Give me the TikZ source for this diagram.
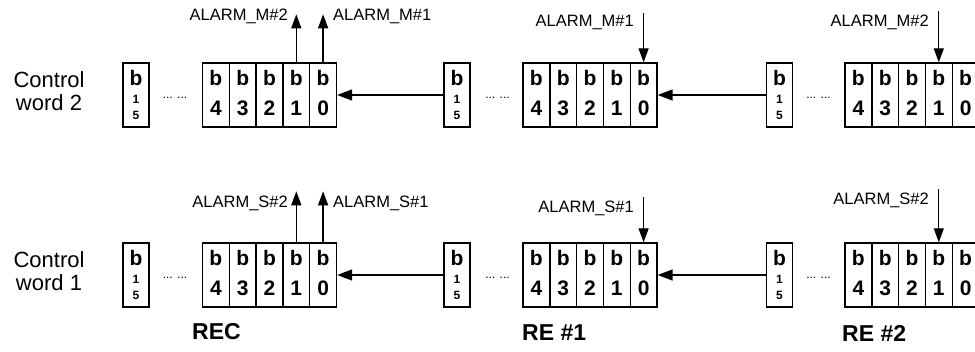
\documentclass[tikz,border=0pt]{standalone}
\usepackage{fontspec}
\setmainfont{Liberation Sans}
\usetikzlibrary{arrows.meta}
\newcommand{\regcell}[1]{\vbox{\baselineskip=30pt\lineskiplimit=-100pt\hbox to 24pt{\hss\bfseries b\hss}\hbox to 24pt{\hss #1\hss}\kern4pt}}
\newcommand{\hibits}{\vbox{\offinterlineskip\hbox to 24pt{\hss\fontsize{21}{21}\selectfont\bfseries b\hss}\kern9.5pt\hbox to 24pt{\hss\fontsize{12}{12}\selectfont\bfseries 1\hss}\kern8.4pt\hbox to 24pt{\hss\fontsize{12}{12}\selectfont\bfseries 5\hss}}}
\begin{document}
\begin{tikzpicture}[x=1pt,y=-1pt,
  cellbox/.style={draw, line width=1.4pt, minimum width=26.8pt, minimum height=64pt, inner sep=0pt, font=\fontsize{21}{30}\selectfont},
  hibox/.style={draw, line width=1.4pt, minimum width=26pt, minimum height=64pt, inner sep=0pt},
  dotsn/.style={inner sep=0pt, font=\fontsize{12}{12}\selectfont},
  alarm/.style={inner sep=0pt, font=\fontsize{16.5}{16.5}\selectfont},
  cw/.style={align=center, inner sep=0pt, font=\fontsize{22}{23}\selectfont},
  relabel/.style={inner sep=0pt, anchor=west, font=\fontsize{23}{23}\selectfont\bfseries},
  harrow/.style={line width=1.6pt, -{Triangle[length=15pt,width=11pt]}},
  varrow/.style={line width=1.3pt, -{Triangle[length=14pt,width=10pt]}}
]
\useasboundingbox (0,0) rectangle (975,351);
\clip (0,0) rectangle (975,351);
\foreach \r/\yc/\wn in {m/95/2, s/275/1}{
  \node[cw] (\r-cw) at (49,{\yc-4}) {Control\\word \wn};
  \foreach \g/\L/\hx/\dx in {rec/202.5/136/175, ra/523/457/497.5, rb/845/779.5/818.5}{
    \foreach \k in {0,...,4}{
      \node[cellbox] (\r-\g-\k) at ({\L+(4-\k)*26.8+13.4},\yc) {\regcell{\bfseries\k}};
    }
    \node[hibox] (\r-\g-15) at (\hx,\yc) {\hibits};
    \node[dotsn] (\r-\g-dots) at (\dx,{\yc+3}) {... ...};
  }
  \draw[harrow] (\r-ra-15.west) -- (\r-rec-0.east);
  \draw[harrow] (\r-rb-15.west) -- (\r-ra-0.east);
}
% top row alarms
\coordinate (m-upA) at ([yshift=48pt]m-rec-1.north);
\coordinate (m-upB) at ([yshift=48pt]m-rec-0.north);
\draw[varrow] (m-rec-1.north) -- (m-upA);
\draw[varrow] (m-rec-0.north) -- (m-upB);
\node[alarm, anchor=east] (m-labA) at (288,16) {ALARM\_M\#2};
\node[alarm, anchor=west] (m-labB) at (333,16) {ALARM\_M\#1};
\coordinate (m-dnA) at ([yshift=49pt]m-ra-0.north);
\draw[varrow] (m-dnA) -- (m-ra-0.north);
\node[alarm, anchor=east] (m-labC) at (634,22) {ALARM\_M\#1};
\coordinate (m-dnB) at ([yshift=51pt]m-rb-1.north);
\draw[varrow] (m-dnB) -- (m-rb-1.north);
\node[alarm, anchor=east] (m-labD) at (929,22) {ALARM\_M\#2};
% bottom row alarms
\coordinate (s-upA) at ([yshift=51pt]s-rec-1.north);
\coordinate (s-upB) at ([yshift=51pt]s-rec-0.north);
\draw[varrow] (s-rec-1.north) -- (s-upA);
\draw[varrow] (s-rec-0.north) -- (s-upB);
\node[alarm, anchor=east] (s-labA) at (288,203) {ALARM\_S\#2};
\node[alarm, anchor=west] (s-labB) at (333,203) {ALARM\_S\#1};
\coordinate (s-dnA) at ([yshift=45pt]s-ra-0.north);
\draw[varrow] (s-dnA) -- (s-ra-0.north);
\node[alarm, anchor=east] (s-labC) at (634,208) {ALARM\_S\#1};
\coordinate (s-dnB) at ([yshift=53pt]s-rb-1.north);
\draw[varrow] (s-dnB) -- (s-rb-1.north);
\node[alarm, anchor=east] (s-labD) at (929,200) {ALARM\_S\#2};
% register names
\node[relabel] (lab-rec) at (192,332) {REC};
\node[relabel] (lab-ra) at (522,333) {RE \#1};
\node[relabel] (lab-rb) at (842,333) {RE \#2};
\end{tikzpicture}
\end{document}
